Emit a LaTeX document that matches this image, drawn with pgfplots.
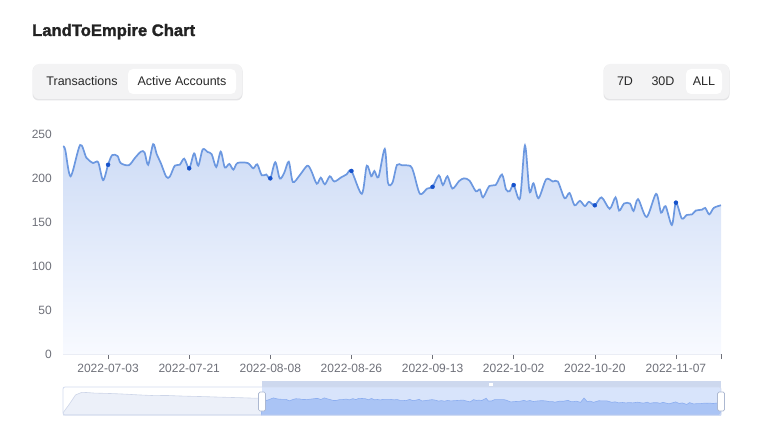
\documentclass[border=0pt]{standalone}
\usepackage{pgfplots}
\pgfplotsset{compat=1.18}
\usepackage{pgfplotstable}
\usepackage{fontspec}
\setmainfont{Liberation Sans}
\newfontfamily\titlefont[BoldFeatures={FakeBold=1.6}]{Liberation Sans}
\definecolor{tickgray}{RGB}{110,112,121}
\definecolor{titlec}{RGB}{34,34,34}
\definecolor{btntext}{RGB}{40,40,40}
\definecolor{grpbg}{RGB}{243,243,244}
\definecolor{grpsh}{RGB}{228,228,230}
\definecolor{linec}{RGB}{108,152,224}
\definecolor{dotc}{RGB}{22,82,204}
\definecolor{areatop}{RGB}{206,220,246}
\definecolor{areabot}{RGB}{248,250,255}
\definecolor{axisc}{RGB}{232,236,244}
\definecolor{zoomborder}{RGB}{210,219,238}
\definecolor{zoomleftfill}{RGB}{236,240,249}
\definecolor{zoomleftline}{RGB}{205,213,232}
\definecolor{selbg}{RGB}{216,228,251}
\definecolor{selfill}{RGB}{170,196,245}
\definecolor{selline}{RGB}{140,174,240}
\definecolor{stripc}{RGB}{205,216,238}
\definecolor{handleb}{RGB}{172,184,209}

\pgfplotstableread{
x y
0 236
0.5 232
1.7 202
3.8 237.5
5.2 223
6.7 217
7.8 218
8.9 197.5
10 215
10.9 226
12.1 225
12.8 217
14.6 214.5
16.0 223
17.3 230
18.1 229
18.9 215
20.0 238.5
20.8 227
21.7 217
22.9 201.5
23.7 201.5
24.8 214
25.9 215
26.9 222
28 211
29.1 228
30.0 214
31.0 232.5
32.1 229.5
33.0 227
34.0 212.5
35.0 230
35.9 212
36.9 216
37.8 209.5
38.7 217
41.0 217
42.2 211
43.1 215.5
44.1 203
45.1 204
46 199.6
47.1 218
48.1 199.5
49.1 206
50.1 218.5
51.0 195.5
52.5 203
54.2 214
55.1 208
56.3 193.5
57.2 200.4
58.1 192.8
59.2 202
60.2 196
61.8 201
62.9 204
64 208
66.3 182
67.4 214
68.4 202
69.1 208
70.0 201
71.4 233
72.1 194.7
73.1 194.7
74.1 214.8
75.2 214.5
77.1 213.6
77.8 206
79.2 182
80.8 188
82 190
83.4 203
84.3 192
85.3 202
86.4 188
87.9 196.6
89.0 199.6
90.2 197
91.6 185
92.5 187
93.2 178
94.6 191
96.0 192
97.4 204
98.3 187
99.1 185
100 192
101.4 177
102.5 237
103.5 185
104.4 194
105.5 177
107.2 198.5
108.7 196
109.8 196
111.3 177
112.4 183
113.5 169
114.7 174
115.8 168
116.7 173
118 169
119.5 178
121.3 165
122.6 178
123.4 163
124.5 171
125.8 171
126.6 162.5
127.6 176
129.5 155.7
131.6 182
132.7 160.6
133.7 168
135.1 146.6
136 172
137.3 154
138.4 158
139.6 158.7
140.4 163
141.8 164
142.5 166
143.4 158.7
144.4 166
146 169
}\maindata

\pgfplotstableread{
x y
0 30
2 150
4 280
6 316
8 312
10 305
13 302
16 298
20 290
24 280
29 270
33 272
37 265
41 260
45 256
49 250
53 245
57 240
61 234
63 236
}\zoomleft

\begin{document}
\begin{tikzpicture}[x=1pt,y=1pt]
\path[use as bounding box] (0pt,0pt) rectangle (763pt,-441pt);

% title
\node[anchor=base west, inner sep=0pt, font=\titlefont\bfseries\fontsize{16.6}{20}\selectfont, text=titlec] at (32pt,-36pt) {LandToEmpire Chart};

% left button group
\fill[grpsh, rounded corners=6pt] (32.5pt,-65pt) rectangle (242.5pt,-100.5pt);
\fill[grpbg, rounded corners=6pt] (33pt,-64pt) rectangle (242pt,-99pt);
\fill[white, rounded corners=5pt] (128pt,-69pt) rectangle (236pt,-94pt);
\node[anchor=base, inner sep=0pt, font=\fontsize{12.5}{15}\selectfont, text=btntext] at (82pt,-86pt) {Transactions};
\node[anchor=base, inner sep=0pt, font=\fontsize{12.5}{15}\selectfont, text=btntext] at (182pt,-86pt) {Active Accounts};

% right button group
\fill[grpsh, rounded corners=6pt] (603.5pt,-65pt) rectangle (729.5pt,-100.5pt);
\fill[grpbg, rounded corners=6pt] (604pt,-64pt) rectangle (729pt,-99pt);
\fill[white, rounded corners=5pt] (686pt,-69pt) rectangle (722pt,-94pt);
\node[anchor=base, inner sep=0pt, font=\fontsize{12.5}{15}\selectfont, text=btntext] at (625pt,-86pt) {7D};
\node[anchor=base, inner sep=0pt, font=\fontsize{12.5}{15}\selectfont, text=btntext] at (663pt,-86pt) {30D};
\node[anchor=base, inner sep=0pt, font=\fontsize{12.5}{15}\selectfont, text=btntext] at (704pt,-86pt) {ALL};

% main chart
\begin{axis}[
  at={(63pt,-354pt)}, anchor=south west,
  scale only axis, width=658pt, height=220pt,
  xmin=0, xmax=146, ymin=0, ymax=250,
  axis x line*=bottom, axis y line*=left,
  x axis line style={draw=axisc, line width=0.6pt},
  y axis line style={draw=none},
  ytick={0,50,100,150,200,250},
  xtick={10,28,46,64,82,100,118,136,146},
  xticklabels={2022-07-03,2022-07-21,2022-08-08,2022-08-26,2022-09-13,2022-10-02,2022-10-20,2022-11-07,{}},
  tick align=outside,
  major tick length=5pt,
  xtick style={draw=tickgray, line width=0.5pt},
  ytick style={draw=none},
  /pgf/number format/assume math mode=true,
  ticklabel style={font=\fontsize{12}{14}\selectfont, text=tickgray},
  yticklabel style={anchor=east, inner sep=0pt, xshift=-6pt},
  xticklabel style={anchor=north, inner sep=0pt, yshift=-5pt},
  clip=false,
]
\addplot[draw=none, top color=areatop, bottom color=areabot, smooth, tension=0.5] table[x=x,y=y] {\maindata} \closedcycle;
\addplot[linec, line width=1.7pt, smooth, tension=0.5] table[x=x,y=y] {\maindata};
\addplot[only marks, mark=*, mark size=2pt, dotc] coordinates {(10,215) (28,211) (46,199.6) (64,208) (82,190) (100,192) (118,169) (136,172)};
\end{axis}

% data zoom slider
\fill[stripc] (262pt,-381pt) rectangle (721pt,-387pt);
\draw[white, line width=0.6pt] (489pt,-383pt) -- (493pt,-383pt) (489pt,-384.3pt) -- (493pt,-384.3pt) (489pt,-385.6pt) -- (493pt,-385.6pt);
\fill[selbg] (262pt,-387pt) rectangle (721pt,-415pt);
\begin{axis}[
  at={(63pt,-415pt)}, anchor=south west,
  scale only axis, width=658pt, height=28pt,
  xmin=0, xmax=209, ymin=0, ymax=390,
  hide axis,
]
\addplot[draw=zoomleftline, line width=0.6pt, fill=zoomleftfill] table[x=x,y=y] {\zoomleft} \closedcycle;
\addplot[draw=selline, line width=0.6pt, fill=selfill] table[x expr=\thisrow{x}+63, y=y] {\maindata} \closedcycle;
\end{axis}
\draw[zoomborder, line width=0.8pt, rounded corners=2pt] (63pt,-387pt) rectangle (721pt,-415pt);
\filldraw[fill=white, draw=handleb, line width=0.7pt, rounded corners=1.5pt] (258.5pt,-392pt) rectangle (265.5pt,-411pt);
\filldraw[fill=white, draw=handleb, line width=0.7pt, rounded corners=1.5pt] (717.5pt,-392pt) rectangle (724.5pt,-411pt);
\end{tikzpicture}
\end{document}
